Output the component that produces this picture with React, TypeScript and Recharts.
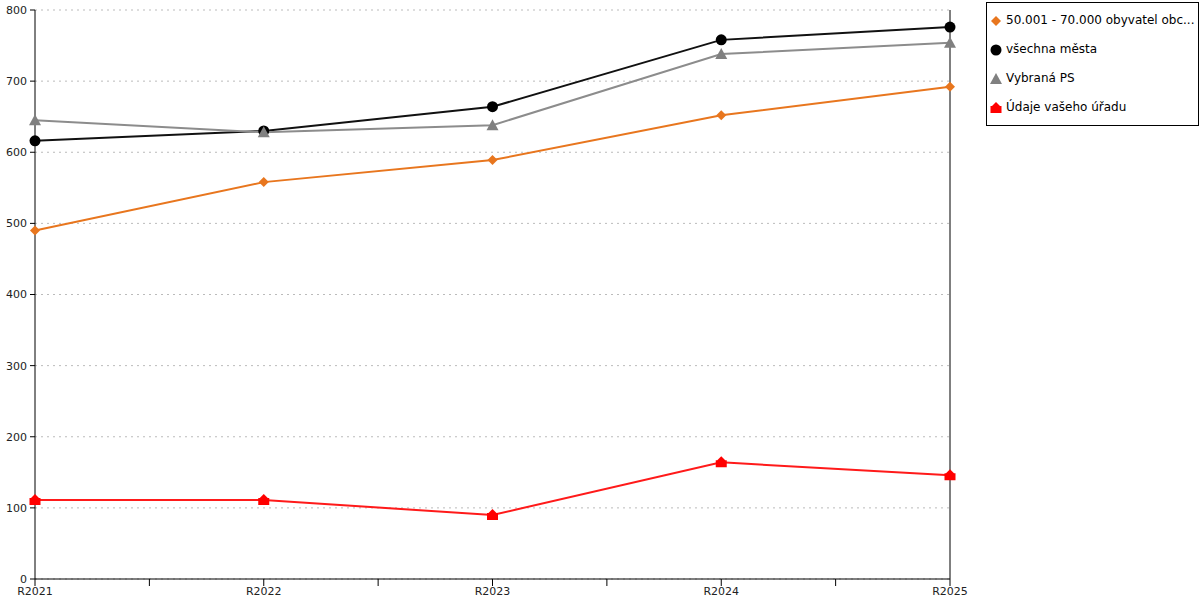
import { LineChart, Line, XAxis, YAxis, CartesianGrid, ReferenceLine, Legend } from 'recharts';

const categories = ['R2021', 'R2022', 'R2023', 'R2024', 'R2025'];
const obceValues = [490, 558, 589, 652, 692];
const mestaValues = [616, 630, 664, 758, 776];
const vybranaValues = [645, 628, 638, 738, 754];
const uradValues = [111, 111, 90, 164, 146];
const yTicks = [0, 100, 200, 300, 400, 500, 600, 700, 800];

const seriesNames = ['50.001 - 70.000 obyvatel obc...', 'všechna města', 'Vybraná PS', 'Údaje vašeho úřadu'];
const seriesKeys = ['obce', 'mesta', 'vybrana', 'urad'];
const seriesColors = ['#e8761e', '#111111', '#8c8c8c', '#ff1a1a'];
const markerColors = ['#e8761e', '#000000', '#808080', '#ff0000'];

const data = categories.map((name, i) => ({
  x: i,
  name,
  obce: obceValues[i],
  mesta: mestaValues[i],
  vybrana: vybranaValues[i],
  urad: uradValues[i],
}));

// category positions plus the half-way ticks between them
const xTicks = categories.flatMap((_, i) => (i === 0 ? [0] : [i - 0.5, i]));

const FONT = '"DejaVu Sans", Verdana, sans-serif';

function Marker({ kind, cx, cy, color }: { kind: number; cx: number; cy: number; color: string }) {
  if (kind === 0) {
    const s = 5;
    return <polygon points={`${cx},${cy - s} ${cx + s},${cy} ${cx},${cy + s} ${cx - s},${cy}`} fill={color} />;
  }
  if (kind === 1) {
    return <circle cx={cx} cy={cy} r={5.5} fill={color} />;
  }
  if (kind === 2) {
    return <polygon points={`${cx},${cy - 6} ${cx + 6},${cy + 5} ${cx - 6},${cy + 5}`} fill={color} />;
  }
  return (
    <polygon
      points={`${cx},${cy - 6} ${cx + 4},${cy - 2} ${cx + 5.5},${cy - 2} ${cx + 5.5},${cy + 5} ${cx - 5.5},${cy + 5} ${cx - 5.5},${cy - 2} ${cx - 4},${cy - 2}`}
      fill={color}
    />
  );
}

function makeDot(kind: number) {
  return (props: any) => {
    const { cx, cy, index } = props;
    if (cx == null || cy == null) return <g key={index} />;
    return <Marker key={index} kind={kind} cx={cx} cy={cy} color={markerColors[kind]} />;
  };
}

function LegendBox() {
  return (
    <div
      style={{
        border: '1px solid #000',
        background: '#fff',
        width: 211,
        height: 122,
        boxSizing: 'content-box',
        fontFamily: FONT,
        fontSize: 12,
        color: '#000',
      }}
    >
      {seriesNames.map((name, i) => (
        <div key={name} style={{ position: 'relative', height: 29, marginTop: i === 0 ? 4 : 0 }}>
          <svg width={14} height={14} style={{ position: 'absolute', left: 2, top: 7 }}>
            <Marker kind={i} cx={7} cy={7} color={markerColors[i]} />
          </svg>
          <span style={{ position: 'absolute', left: 19, top: 6, whiteSpace: 'nowrap' }}>{name}</span>
        </div>
      ))}
    </div>
  );
}

export default function App() {
  return (
    <div style={{ position: 'absolute', left: 0, top: 0, width: 1200, height: 600, background: '#fff' }}>
      <LineChart width={1200} height={600} data={data} margin={{ top: 10, right: 250, bottom: 0, left: 0 }}>
        <CartesianGrid vertical={false} stroke="#bbbbbb" strokeDasharray="2 4" />
        <XAxis
          dataKey="x"
          type="number"
          domain={[0, categories.length - 1]}
          ticks={xTicks}
          interval={0}
          height={21}
          tickSize={7}
          tickMargin={1}
          axisLine={{ stroke: '#000' }}
          tickLine={{ stroke: '#000' }}
          tick={{ fill: '#222', fontSize: 11, fontFamily: FONT }}
          tickFormatter={(v: number) => (Number.isInteger(v) ? categories[v] : '')}
        />
        <YAxis
          domain={[0, 800]}
          ticks={yTicks}
          interval={0}
          width={35}
          tickSize={5}
          tickMargin={3}
          axisLine={{ stroke: '#000' }}
          tickLine={{ stroke: '#000' }}
          tick={{ fill: '#222', fontSize: 11, fontFamily: FONT }}
        />
        <ReferenceLine x={categories.length - 1} stroke="#000" strokeWidth={1} />
        {seriesKeys.map((key, i) => (
          <Line
            key={key}
            dataKey={key}
            name={seriesNames[i]}
            type="linear"
            stroke={seriesColors[i]}
            strokeWidth={2}
            dot={makeDot(i)}
            activeDot={false}
            isAnimationActive={false}
          />
        ))}
        <Legend
          layout="vertical"
          align="center"
          verticalAlign="middle"
          wrapperStyle={{ left: 986, top: 2, width: 213, height: 124 }}
          content={() => <LegendBox />}
        />
      </LineChart>
    </div>
  );
}
